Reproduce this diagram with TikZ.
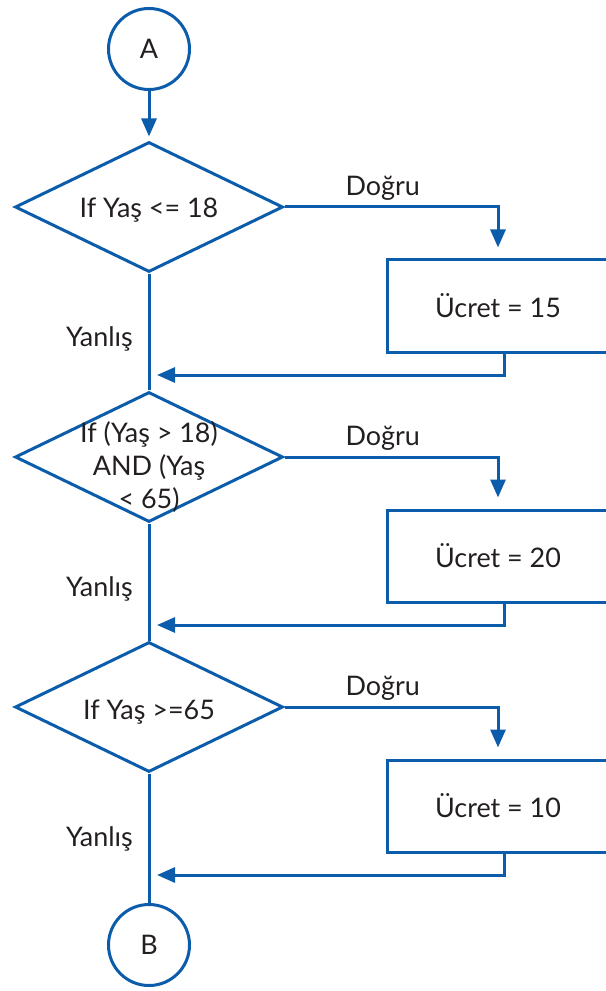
\documentclass[tikz,border=0pt]{standalone}
\usepackage{fontspec}
\setmainfont{Lato}
\usetikzlibrary{arrows.meta, positioning, calc, shapes.geometric}
\definecolor{flow}{HTML}{0B5CAB}
\definecolor{ink} {HTML}{231F20}

\begin{document}
\begin{tikzpicture}[x=0.03cm, y=-0.03cm,
    every node/.style={text=ink, font=\fontsize{23}{28}\selectfont},
    conn/.style={circle, draw=flow, line width=0.09cm, minimum size=2.43cm, inner sep=0pt},
    decision/.style={diamond, draw=flow, line width=0.09cm, minimum width=8.04cm,
                     minimum height=3.9cm, inner sep=0pt, aspect=2},
    process/.style={rectangle, draw=flow, line width=0.09cm, minimum width=6.66cm,
                    minimum height=2.76cm},
    flowline/.style={draw=flow, line width=0.09cm},
    arr/.style={flowline, -{Triangle[length=0.54cm, width=0.45cm]}}]
    \useasboundingbox (0, 0) rectangle (605, 991);
    \node[conn] (A) at (149, 49) {A};
    \node[conn] (B) at (149, 945) {B};
    \foreach \q/\fee/\dy [count=\i from 0] in
      {{If Yaş <= 18}/15/3, {If (Yaş > 18)\\AND (Yaş\\< 65)}/20/10, {If Yaş >=65}/10/5}
      {\node[decision] (d\i) at (149, 207+\i*250) {};
       \node[align=center] (q\i) at (149, 207+\i*250+\dy) {\q};
       \node[process] (p\i) at (498, 306+\i*250) {Ücret = \fee};
       \coordinate (j\i) at (149, 375+\i*250);
       \draw[arr, shorten >=0.33cm] (d\i.east) -| node[pos=0.23, above=1pt] {Doğru} (p\i.north);
       \draw[arr, shorten >=0.24cm] ($(p\i.south)+(6,0)$) |- (j\i);
       \node[anchor=east] (n\i) at ($(j\i)+(-12,-36)$) {Yanlış};}
    \draw[arr, shorten >=0.12cm] (A) -- (d0);
    \draw[flowline] (d0.south) -- (d1.north);
    \draw[flowline] (d1.south) -- (d2.north);
    \draw[flowline] (d2.south) -- (B);
  \end{tikzpicture}
\end{document}
